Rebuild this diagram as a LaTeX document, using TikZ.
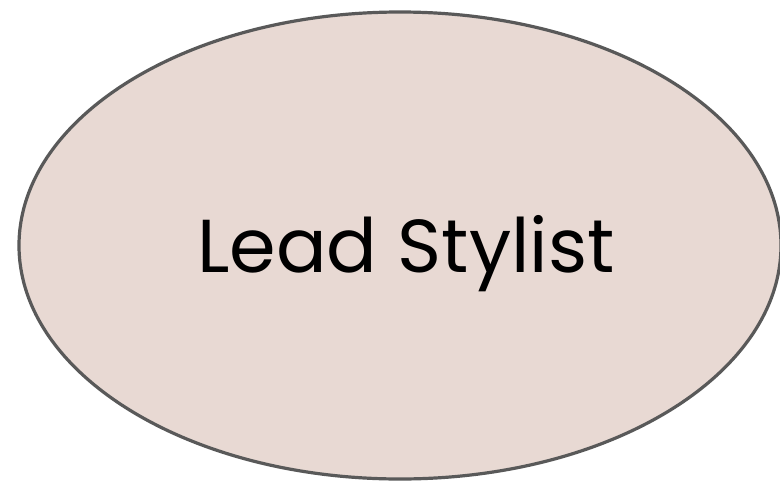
\documentclass[tikz,border=0pt]{standalone}
\usepackage{fontspec}
\setmainfont{Poppins}
\definecolor{ellfill}{HTML}{E8D9D3}
\definecolor{ellline}{HTML}{595959}
\tikzset{
  roleshape/.style={draw=ellline, fill=ellfill, line width=3.2pt},
  rolelabel/.style={font=\fontsize{75}{88}\selectfont, text=black, anchor=base, inner sep=0pt}
}
\begin{document}
\begin{tikzpicture}[x=1pt,y=-1pt]
\useasboundingbox (0,0) rectangle (780,480);
\draw[roleshape] (400,245.5) ellipse [x radius=381, y radius=233.5];
\node[rolelabel] (lbl) at (406,272) {Lead Stylist};
\end{tikzpicture}
\end{document}
